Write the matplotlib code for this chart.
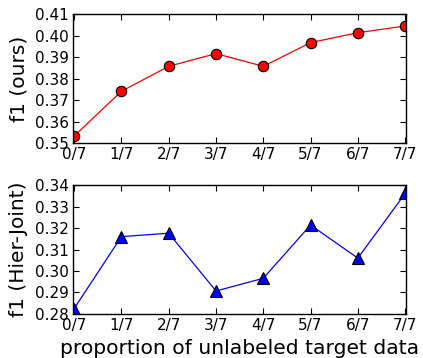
import matplotlib
matplotlib.use("Agg")
import matplotlib.pyplot as plt

labels = ['0/7', '1/7', '2/7', '3/7', '4/7', '5/7', '6/7', '7/7']
f1_ours = [0.3533, 0.3741, 0.3857, 0.3916, 0.3857, 0.3967, 0.4013, 0.4044]
f1_hier = [0.2825, 0.3160, 0.3176, 0.2907, 0.2966, 0.3214, 0.3060, 0.3361]

plt.rcParams['xtick.direction'] = 'in'
plt.rcParams['ytick.direction'] = 'in'
plt.rcParams['xtick.top'] = True
plt.rcParams['ytick.right'] = True
plt.rcParams['font.size'] = 11

fig = plt.figure(figsize=(4.23, 3.58), dpi=100)
ax1 = fig.add_axes([0.173, 0.600, 0.787, 0.361])
ax2 = fig.add_axes([0.173, 0.123, 0.787, 0.360])

x = range(len(labels))

ax1.plot(x, f1_ours, color='red', linewidth=0.9, marker='o', markersize=7.5,
         markerfacecolor='red', markeredgecolor='black', markeredgewidth=0.8)
ax1.set_ylim(0.35, 0.41)
ax1.set_yticks([0.35, 0.36, 0.37, 0.38, 0.39, 0.40, 0.41])
ax1.set_ylabel('f1 (ours)', fontsize=14.5)

ax2.plot(x, f1_hier, color='blue', linewidth=0.9, marker='^', markersize=8,
         markerfacecolor='blue', markeredgecolor='black', markeredgewidth=0.8)
ax2.set_ylim(0.28, 0.34)
ax2.set_yticks([0.28, 0.29, 0.30, 0.31, 0.32, 0.33, 0.34])
ax2.set_ylabel('f1 (Hier-Joint)', fontsize=14.5)
ax2.set_xlabel('proportion of unlabeled target data', fontsize=14.6, labelpad=4)

for ax in (ax1, ax2):
    ax.set_xlim(-0.02, len(labels) - 1 + 0.02)
    ax.set_xticks(list(x))
    ax.set_xticklabels(labels)
    ax.tick_params(length=4, width=0.8, pad=3)
    for s in ax.spines.values():
        s.set_linewidth(1.0)
    ax.yaxis.set_label_coords(-0.135, 0.5)

fig.savefig('out.png', dpi=100)
